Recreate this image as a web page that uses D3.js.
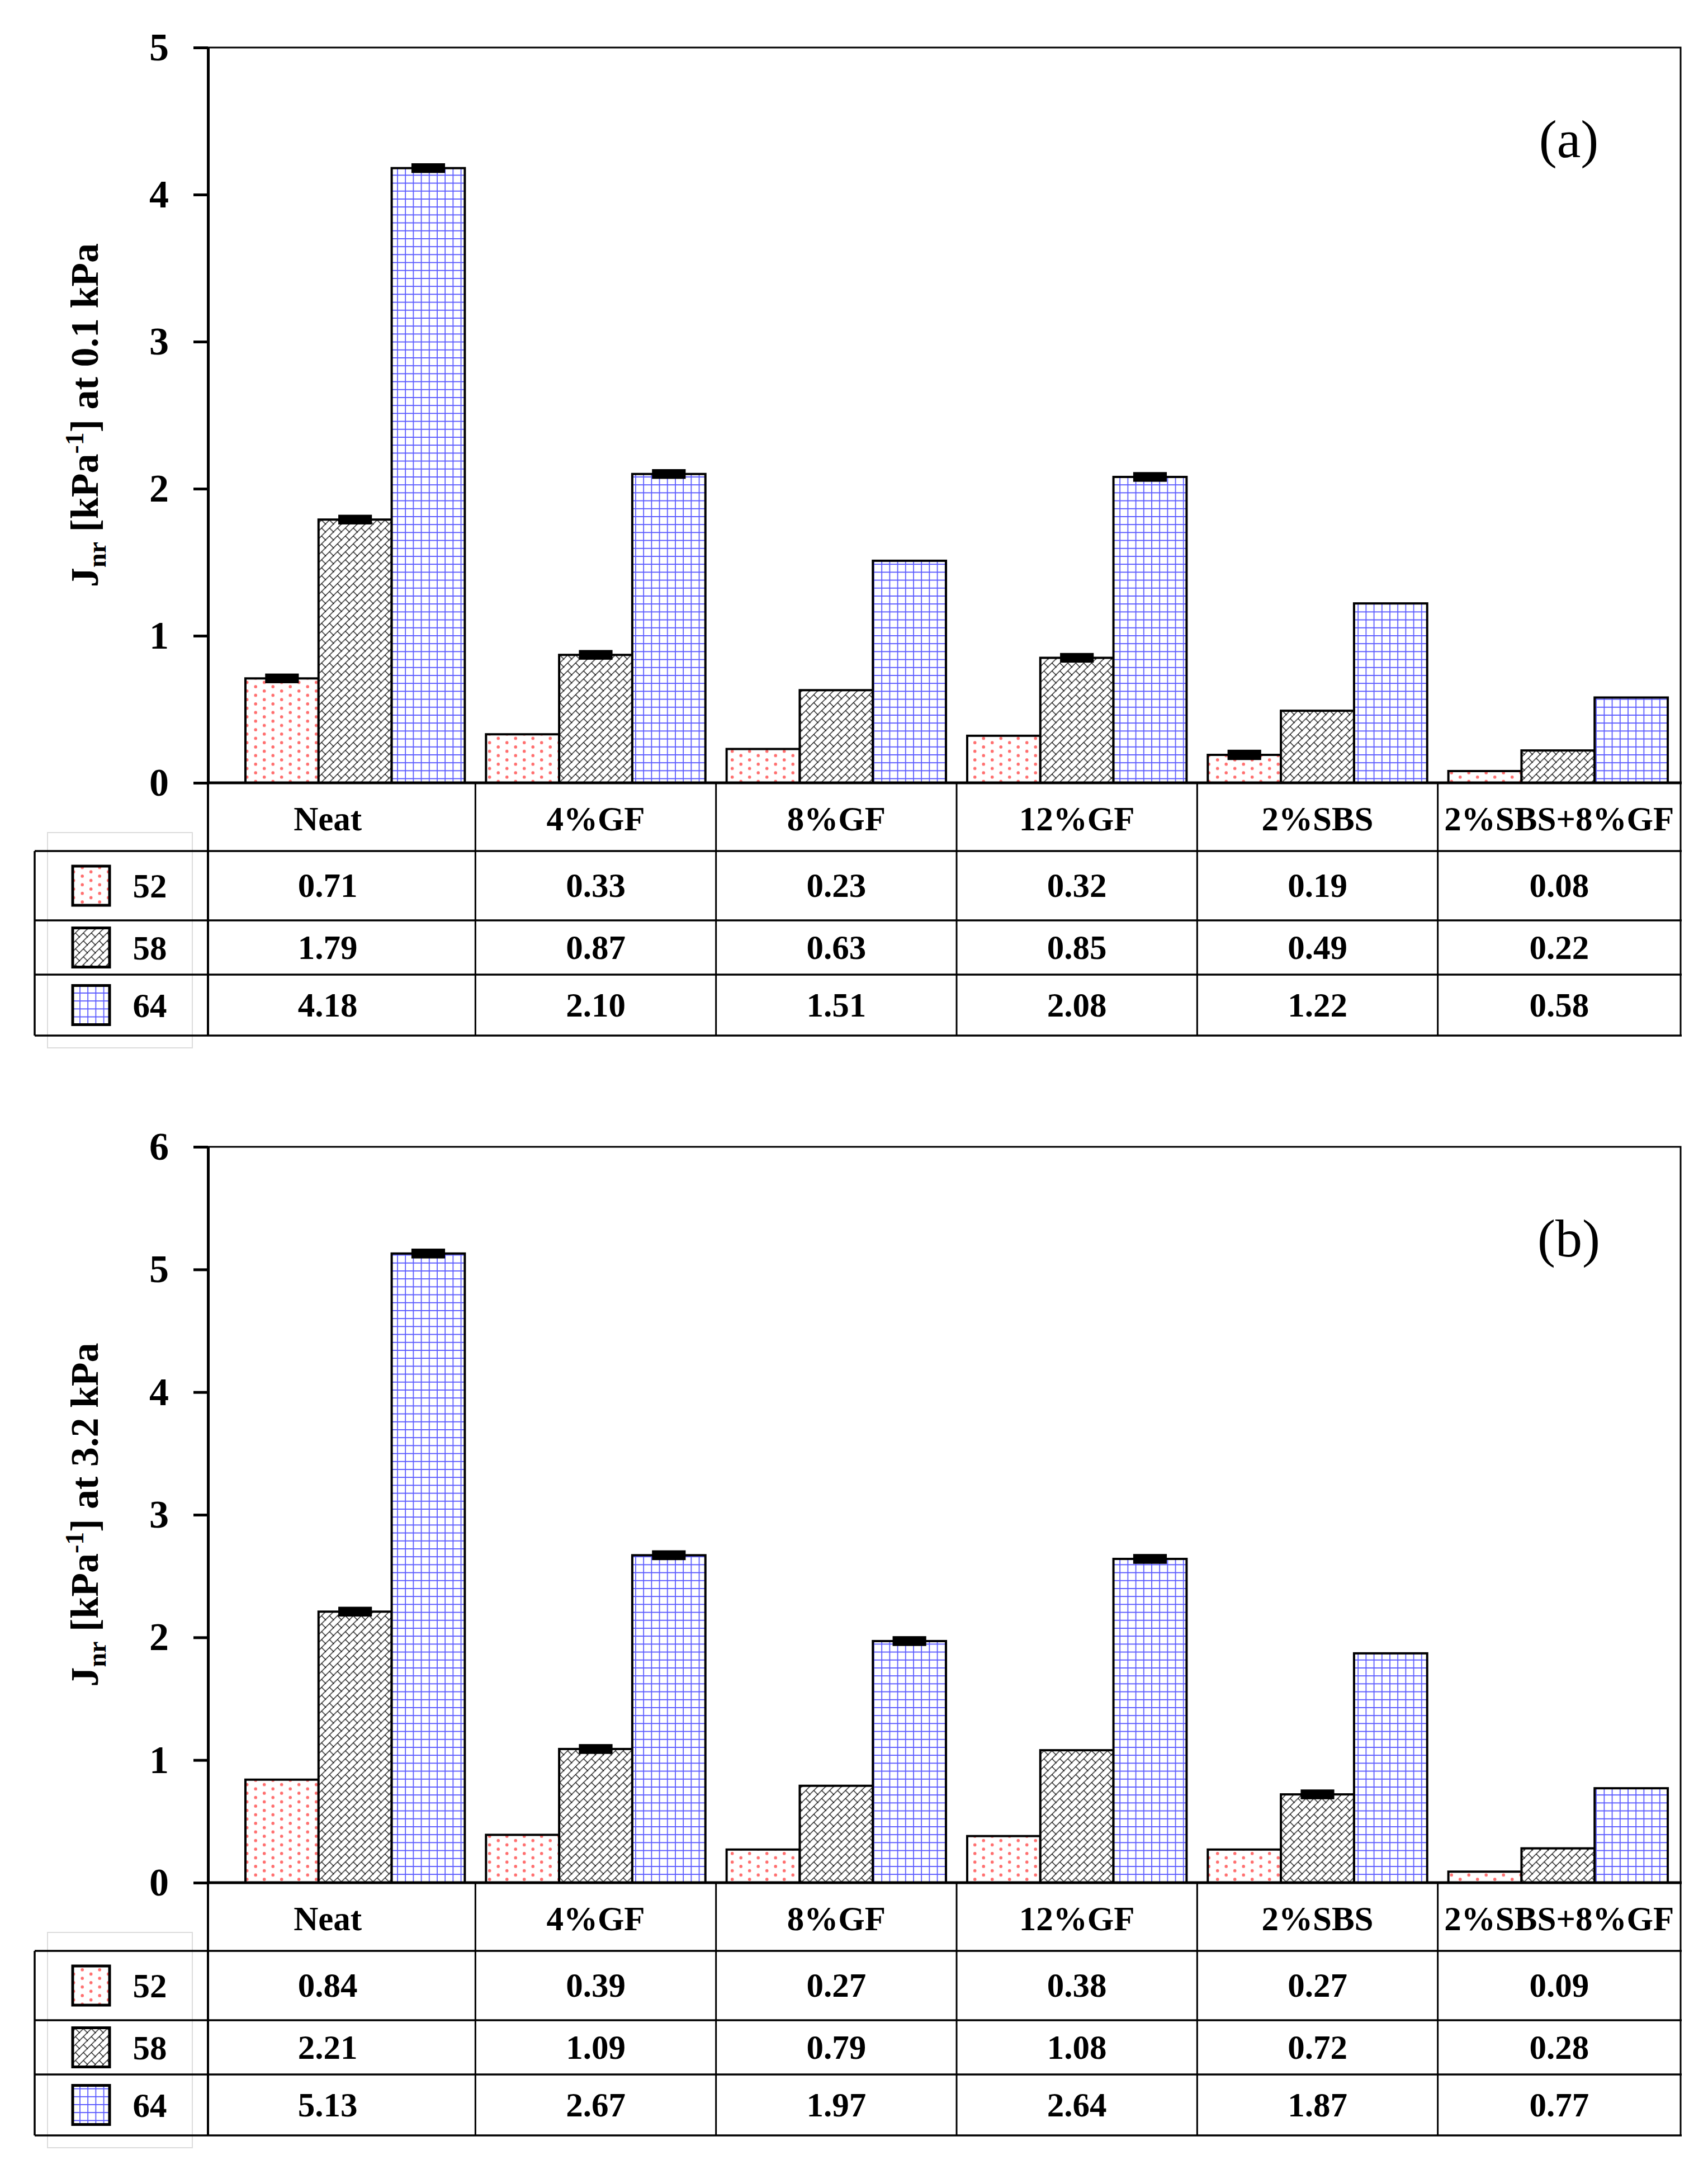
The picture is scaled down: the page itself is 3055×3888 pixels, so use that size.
<!DOCTYPE html>
<html>
<head>
<meta charset="utf-8">
<script src="https://cdn.jsdelivr.net/npm/d3@7"></script>
<style>
  body { margin: 0; background: #fff; }
  text { font-family: "Liberation Serif", "Times New Roman", serif; }
</style>
</head>
<body>
<div id="chart"></div>
<script>
// ---- data ----
const categories = ["Neat", "4%GF", "8%GF", "12%GF", "2%SBS", "2%SBS+8%GF"];
const temps = ["52", "58", "64"];

// (a) Jnr at 0.1 kPa
const jnr01_52 = [0.71, 0.33, 0.23, 0.32, 0.19, 0.08];
const jnr01_58 = [1.79, 0.87, 0.63, 0.85, 0.49, 0.22];
const jnr01_64 = [4.18, 2.10, 1.51, 2.08, 1.22, 0.58];
// (b) Jnr at 3.2 kPa
const jnr32_52 = [0.84, 0.39, 0.27, 0.38, 0.27, 0.09];
const jnr32_58 = [2.21, 1.09, 0.79, 1.08, 0.72, 0.28];
const jnr32_64 = [5.13, 2.67, 1.97, 2.64, 1.87, 0.77];

// error bars (estimated, 0 = not visible)
const err01_52 = [0.033, 0, 0, 0, 0.035, 0];
const err01_58 = [0.033, 0.033, 0, 0.033, 0, 0];
const err01_64 = [0.033, 0.033, 0, 0.033, 0, 0];
const err32_52 = [0, 0, 0, 0, 0, 0];
const err32_58 = [0.04, 0.04, 0, 0, 0.04, 0];
const err32_64 = [0.04, 0.04, 0.04, 0.04, 0, 0];

const ticks01 = [0, 1, 2, 3, 4, 5];
const ticks32 = [0, 1, 2, 3, 4, 5, 6];

// ---- layout ----
const svgWidth = 3055, svgHeight = 3888;
const plotLeft = 372, plotRight = 3006;
const tableLeft = 62;
const rowHeights = [122, 124, 97, 109]; // header + 3 series rows

const svg = d3.select("#chart")
  .append("svg")
  .attr("width", svgWidth)
  .attr("height", svgHeight);

svg.append("rect")
  .attr("width", svgWidth)
  .attr("height", svgHeight)
  .attr("fill", "#fff");

//Patterns for the three temperatures
const defs = svg.append("defs");

const dots = defs.append("pattern")
  .attr("id", "pat52")
  .attr("patternUnits", "userSpaceOnUse")
  .attr("width", 31).attr("height", 15.4);
dots.append("rect").attr("width", 31).attr("height", 15.4).attr("fill", "#fff");
dots.append("circle").attr("cx", 7.7).attr("cy", 3.8).attr("r", 2.8).attr("fill", "#ff6e6e");
dots.append("circle").attr("cx", 23.2).attr("cy", 11.5).attr("r", 2.8).attr("fill", "#ff6e6e");

const T = 14.2;
const brick = defs.append("pattern")
  .attr("id", "pat58")
  .attr("patternUnits", "userSpaceOnUse")
  .attr("width", T).attr("height", T);
brick.append("rect").attr("width", T).attr("height", T).attr("fill", "#fff");
brick.append("path")
  .attr("d", `M-1,${T + 1}L${T + 1},-1 M${T / 2},${T / 2}L${T + 1},${T + 1} M-1,-1L1,1`)
  .attr("stroke", "#000")
  .attr("stroke-width", 1.25)
  .attr("fill", "none");

const grid = defs.append("pattern")
  .attr("id", "pat64")
  .attr("patternUnits", "userSpaceOnUse")
  .attr("width", T).attr("height", T);
grid.append("rect").attr("width", T).attr("height", T).attr("fill", "#fff");
grid.append("path")
  .attr("d", `M0,1H${T} M1,0V${T}`)
  .attr("stroke", "#5b5bff")
  .attr("stroke-width", 1.8)
  .attr("fill", "none");

const fills = {"52": "url(#pat52)", "58": "url(#pat58)", "64": "url(#pat64)"};

//X scales: categories and temperatures inside each group
const x0 = d3.scaleBand()
  .domain(categories)
  .range([420, 3002]);

const x1 = d3.scaleBand()
  .domain(temps)
  .range([0, x0.bandwidth()])
  .paddingOuter(0.145);

const fmt = d3.format(".2f");

function drawPanel(p) {
  const g = svg.append("g");
  const zero = p.top + p.plotHeight;

  const y = d3.scaleLinear()
    .domain([0, p.yMax])
    .range([zero, p.top]);

  //Frame top + right
  g.append("path")
    .attr("d", `M${plotLeft},${p.top}H${plotRight}V${zero}`)
    .attr("fill", "none")
    .attr("stroke", "#000")
    .attr("stroke-width", 3);

  //Bars
  const series = temps.map((t, i) => ({temp: t, values: p.values[i], errs: p.errs[i]}));
  const flat = [];
  series.forEach(s => s.values.forEach((v, j) => flat.push({temp: s.temp, cat: categories[j], v: v, e: s.errs[j]})));

  g.selectAll(".bar")
    .data(flat)
    .enter()
    .append("rect")
    .attr("class", "bar")
    .attr("x", d => x0(d.cat) + x1(d.temp))
    .attr("y", d => y(d.v))
    .attr("width", x1.bandwidth())
    .attr("height", d => y(0) - y(d.v))
    .attr("fill", d => fills[d.temp])
    .attr("stroke", "#000")
    .attr("stroke-width", 4);

  //Error bars
  const ebW = x1.bandwidth() * 0.46;
  g.selectAll(".err")
    .data(flat.filter(d => d.e > 0))
    .enter()
    .append("rect")
    .attr("class", "err")
    .attr("x", d => x0(d.cat) + x1(d.temp) + x1.bandwidth() / 2 - ebW / 2)
    .attr("y", d => y(d.v + d.e))
    .attr("width", ebW)
    .attr("height", d => y(d.v - d.e) - y(d.v + d.e))
    .attr("fill", "#000");

  //Y axis
  const yAxis = d3.axisLeft(y)
    .tickValues(p.ticks)
    .tickFormat(d3.format("d"))
    .tickSize(26)
    .tickSizeOuter(0)
    .tickPadding(44);

  const ax = g.append("g")
    .attr("transform", `translate(${plotLeft},0)`)
    .call(yAxis);
  ax.select(".domain").attr("stroke-width", 5);
  ax.selectAll(".tick line").attr("stroke-width", 5);
  ax.selectAll(".tick text")
    .attr("font-size", 70)
    .attr("font-weight", "bold")
    .attr("font-family", "Liberation Serif, serif")
    .attr("fill", "#000");

  //Zero line
  g.append("line")
    .attr("x1", plotLeft).attr("x2", plotRight + 2)
    .attr("y1", zero).attr("y2", zero)
    .attr("stroke", "#000")
    .attr("stroke-width", 5);

  //Y axis title
  const title = g.append("text")
    .attr("transform", `translate(175, ${(p.top + zero) / 2}) rotate(-90)`)
    .attr("text-anchor", "middle")
    .attr("font-size", 70)
    .attr("font-weight", "bold");
  title.append("tspan").text("J");
  title.append("tspan").attr("dy", 14).attr("font-size", 46).text("nr");
  title.append("tspan").attr("dy", -14).text(" [kPa");
  title.append("tspan").attr("dy", -26).attr("font-size", 46).text("-1");
  title.append("tspan").attr("dy", 26).text(`] at ${p.stress} kPa`);

  //Panel letter
  g.append("text")
    .attr("x", plotRight - 200)
    .attr("y", p.top + 196)
    .attr("text-anchor", "middle")
    .attr("font-size", 96)
    .text(p.letter);

  // ---- data table under the plot ----
  const rowTops = [zero];
  rowHeights.forEach(h => rowTops.push(rowTops[rowTops.length - 1] + h));
  const tableBottom = rowTops[rowTops.length - 1];
  const colEdges = [plotLeft].concat(categories.slice(1).map(c => x0(c))).concat([plotRight]);

  //light frame around legend column
  g.append("rect")
    .attr("x", 85).attr("y", zero + 89)
    .attr("width", 259).attr("height", tableBottom - zero - 89 + 22)
    .attr("fill", "none")
    .attr("stroke", "#dcdcdc")
    .attr("stroke-width", 2);

  //horizontal rules
  g.selectAll(".hrule")
    .data(rowTops.slice(1))
    .enter()
    .append("line")
    .attr("x1", tableLeft).attr("x2", plotRight + 2)
    .attr("y1", d => d).attr("y2", d => d)
    .attr("stroke", "#000")
    .attr("stroke-width", 3.5);

  //vertical rules
  g.selectAll(".vrule")
    .data(colEdges)
    .enter()
    .append("line")
    .attr("x1", d => d).attr("x2", d => d)
    .attr("y1", zero).attr("y2", tableBottom)
    .attr("stroke", "#000")
    .attr("stroke-width", d => d === plotLeft ? 4 : 3);

  g.append("line")
    .attr("x1", tableLeft).attr("x2", tableLeft)
    .attr("y1", rowTops[1]).attr("y2", tableBottom)
    .attr("stroke", "#000")
    .attr("stroke-width", 3.5);

  const colCenter = i => (colEdges[i] + colEdges[i + 1]) / 2;
  const rowCenter = r => (rowTops[r] + rowTops[r + 1]) / 2;

  //header
  g.selectAll(".head")
    .data(categories)
    .enter()
    .append("text")
    .attr("x", (d, i) => colCenter(i) - (i === 0 ? 25 : 0))
    .attr("y", rowCenter(0) + 24)
    .attr("text-anchor", "middle")
    .attr("font-size", 61)
    .attr("font-weight", "bold")
    .text(d => d);

  //values
  series.forEach((s, r) => {
    g.selectAll(".val" + s.temp)
      .data(s.values)
      .enter()
      .append("text")
      .attr("x", (d, i) => colCenter(i) - (i === 0 ? 25 : 0))
      .attr("y", rowCenter(r + 1) + 20)
      .attr("text-anchor", "middle")
      .attr("font-size", 61)
      .attr("font-weight", "bold")
      .text(d => fmt(d));

    //legend swatch + key
    g.append("rect")
      .attr("x", 130).attr("y", rowCenter(r + 1) - 35)
      .attr("width", 66).attr("height", 70)
      .attr("fill", fills[s.temp])
      .attr("stroke", "#000")
      .attr("stroke-width", 5);

    g.append("text")
      .attr("x", 268)
      .attr("y", rowCenter(r + 1) + 21)
      .attr("text-anchor", "middle")
      .attr("font-size", 61)
      .attr("font-weight", "bold")
      .text(s.temp);
  });
}

drawPanel({
  top: 85, plotHeight: 1315, yMax: 5, ticks: ticks01,
  values: [jnr01_52, jnr01_58, jnr01_64],
  errs: [err01_52, err01_58, err01_64],
  stress: "0.1", letter: "(a)"
});

drawPanel({
  top: 2051, plotHeight: 1316, yMax: 6, ticks: ticks32,
  values: [jnr32_52, jnr32_58, jnr32_64],
  errs: [err32_52, err32_58, err32_64],
  stress: "3.2", letter: "(b)"
});
</script>
</body>
</html>
